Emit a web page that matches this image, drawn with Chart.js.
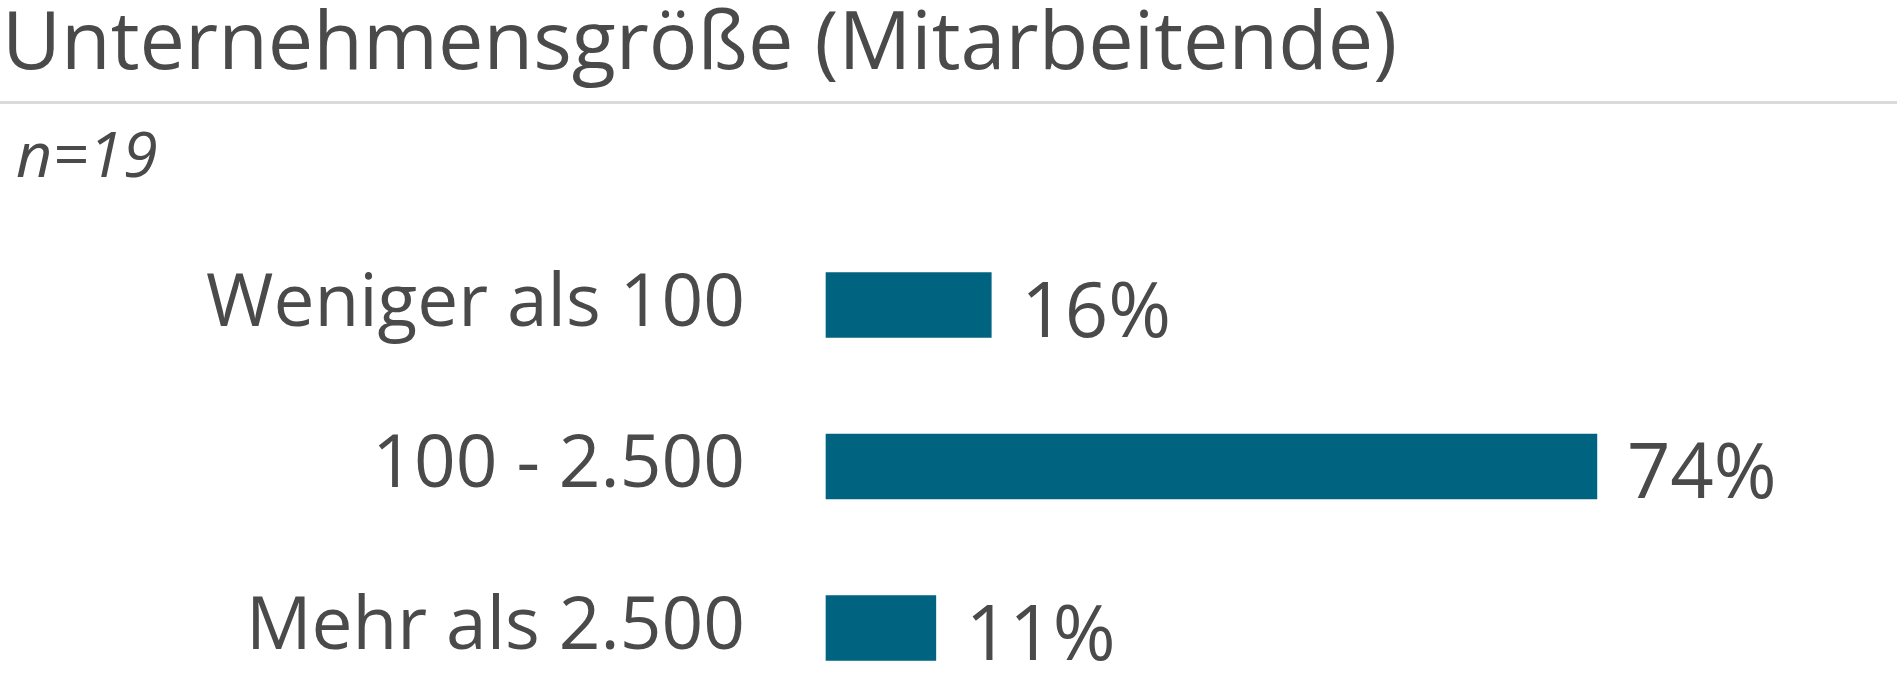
<!DOCTYPE html>
<html>
<head>
<meta charset="utf-8">
<script src="https://cdn.jsdelivr.net/npm/chart.js@4"></script>
<style>
  html, body { margin: 0; padding: 0; background: #fff; overflow: hidden; }
  body { width: 1897px; height: 680px; position: relative; font-family: "Open Sans", sans-serif; color: #4a4a4a; }
  #title { position: absolute; left: 2px; top: -11px; font-size: 81px; font-weight: 400; white-space: nowrap; line-height: 1.2; }
  #rule { position: absolute; left: 0; right: 0; top: 101px; height: 3px; background: #dadada; }
  #n { position: absolute; left: 16px; top: 115px; font-size: 63px; font-weight: 400; font-style: italic; line-height: 1.2; }
  #myChart { position: absolute; left: 0; top: 0; }
</style>
</head>
<body>
<div id="title">Unternehmensgröße (Mitarbeitende)</div>
<div id="rule"></div>
<div id="n">n=19</div>
<canvas id="myChart" width="1897" height="680"></canvas>
<script>
  // Kategorien und Werte (Anteil in %)
  var categories = ["Weniger als 100", "100 - 2.500", "Mehr als 2.500"];
  var values = [15.8, 73.7, 10.5];
  var valueLabels = ["16%", "74%", "11%"];

  var barColor = "#00637f";
  var textColor = "#4a4a4a";

  // Beschriftung rechts neben den Balken
  var valueLabelPlugin = {
    id: "valueLabels",
    afterDatasetsDraw: function (chart) {
      var ctx = chart.ctx;
      var meta = chart.getDatasetMeta(0);
      ctx.save();
      ctx.font = "400 76px 'Open Sans'";
      ctx.fillStyle = textColor;
      ctx.textAlign = "left";
      ctx.textBaseline = "middle";
      meta.data.forEach(function (bar, i) {
        ctx.fillText(valueLabels[i], bar.x + 30, bar.y + 10);
      });
      ctx.restore();
    },
  };

  var ctx = document.getElementById("myChart").getContext("2d");
  var myChart = new Chart(ctx, {
    type: "bar",
    data: {
      labels: categories,
      datasets: [
        {
          data: values,
          backgroundColor: barColor,
          borderWidth: 0,
          barThickness: 65,
          clip: false,
        },
      ],
    },
    options: {
      indexAxis: "y",
      responsive: false,
      animation: false,
      devicePixelRatio: 1,
      layout: {
        padding: { left: 0, right: 25, top: 305, bottom: 52 },
      },
      plugins: {
        legend: { display: false },
        tooltip: { enabled: false },
      },
      scales: {
        x: {
          min: 0,
          max: 100,
          display: false,
        },
        y: {
          offset: false,
          grid: { display: false, drawTicks: false },
          border: { display: false },
          ticks: {
            color: textColor,
            padding: 81,
            font: { family: "Open Sans", size: 73, weight: 400 },
          },
          afterFit: function (scale) {
            scale.width = 826;
            scale.paddingTop = 0;
            scale.paddingBottom = 0;
          },
        },
      },
    },
    plugins: [valueLabelPlugin],
  });
</script>
</body>
</html>
